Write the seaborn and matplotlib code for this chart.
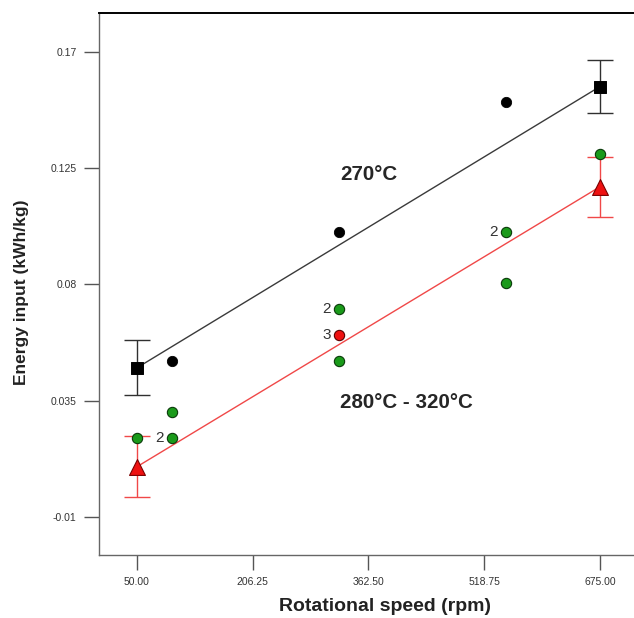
import numpy as np
import pandas as pd
import matplotlib
matplotlib.use("Agg")
import matplotlib.pyplot as plt
import seaborn as sns

# design points
black_x = [97, 323, 548]
black_y = [0.0504, 0.1004, 0.1505]
green_x = [50, 97, 97, 323, 323, 548, 548, 675]
green_y = [0.0204, 0.0306, 0.0204, 0.0705, 0.0504, 0.1004, 0.0806, 0.1305]
red_x = [323]
red_y = [0.0604]

# replicate counts next to points
rep_x = [97, 323, 323, 548]
rep_y = [0.0204, 0.0705, 0.0604, 0.1004]
rep_n = ["2", "2", "3", "2"]

# model predictions at the two speed extremes
end_x = [50, 675]
pred_270 = [0.0477, 0.1566]
err_270 = [0.0107, 0.0103]
pred_280 = [0.0094, 0.1178]
err_280 = [0.0117, 0.0117]

x_ticks = [50.00, 206.25, 362.50, 518.75, 675.00]
y_ticks = [-0.01, 0.035, 0.08, 0.125, 0.17]

sns.set_style("white")
plt.rcParams['font.family'] = ['Liberation Sans', 'DejaVu Sans']

fig = plt.figure(figsize=(6.34, 6.18), dpi=100)
ax = fig.add_axes([0.1557, 0.1019, 0.8443, 0.8771])

# fitted lines
line_df = pd.DataFrame({'speed': end_x * 2,
                        'energy': pred_270 + pred_280,
                        'group': ['270'] * 2 + ['280'] * 2})
sns.lineplot(data=line_df, x='speed', y='energy', hue='group',
             palette={'270': '#3a3a3a', '280': '#f04848'}, linewidth=1.0,
             legend=False, ax=ax, zorder=2)

# error bars at the ends
ax.errorbar(end_x, pred_270, yerr=err_270, fmt='none', ecolor='#303030',
            elinewidth=1.0, capsize=9.5, capthick=1.0, zorder=3)
ax.errorbar(end_x, pred_280, yerr=err_280, fmt='none', ecolor='#f04848',
            elinewidth=1.0, capsize=9.5, capthick=1.0, zorder=3)

# observed points
sns.scatterplot(x=black_x, y=black_y, color='black', s=55, edgecolor='black',
                linewidth=0.6, ax=ax, zorder=4)
sns.scatterplot(x=green_x, y=green_y, color='#1a9a1a', s=55, edgecolor='#0a3a0a',
                linewidth=0.8, ax=ax, zorder=4)
sns.scatterplot(x=red_x, y=red_y, color='#ee1111', s=55, edgecolor='#5a0000',
                linewidth=0.8, ax=ax, zorder=4)

# prediction markers
sns.scatterplot(x=end_x, y=pred_270, marker='s', color='black', s=75,
                edgecolor='black', ax=ax, zorder=5)
sns.scatterplot(x=end_x, y=pred_280, marker='^', color='#ee1111', s=130,
                edgecolor='#7a0000', linewidth=0.8, ax=ax, zorder=5)

for x, y, n in zip(rep_x, rep_y, rep_n):
    ax.annotate(n, (x, y), xytext=(-6, 0), textcoords='offset points',
                ha='right', va='center', fontsize=11, color='#333333')

ax.text(324, 0.1224, '270°C', fontsize=14.8, fontweight='bold', va='center')
ax.text(324, 0.0344, '280°C - 320°C', fontsize=14.8, fontweight='bold', va='center')

ax.set_xlim(-1.7, 721)
ax.set_ylim(-0.0248, 0.1851)
ax.set_xticks(x_ticks)
ax.set_xticklabels([f'{v:.2f}' for v in x_ticks])
ax.set_yticks(y_ticks)
ax.set_yticklabels(['-0.01', '0.035', '0.08', '0.125', '0.17'])
ax.tick_params(axis='both', direction='out', length=11, width=1.0,
               color='#555555', labelsize=7.5, labelcolor='#333333', pad=5,
               bottom=True, left=True)

ax.set_xlabel('Rotational speed (rpm)', fontsize=14, fontweight='bold',
              color='#222222')
ax.set_ylabel('Energy input (kWh/kg)', fontsize=12.5, fontweight='bold',
              color='#222222')
ax.xaxis.set_label_coords(0.535, -0.079)
ax.yaxis.set_label_coords(-0.130, 0.485)

ax.spines['right'].set_visible(False)
ax.spines['top'].set_color('black')
ax.spines['top'].set_linewidth(1.4)
for s in ['left', 'bottom']:
    ax.spines[s].set_color('#666666')
    ax.spines[s].set_linewidth(1.0)

fig.savefig('out.png', dpi=100)
